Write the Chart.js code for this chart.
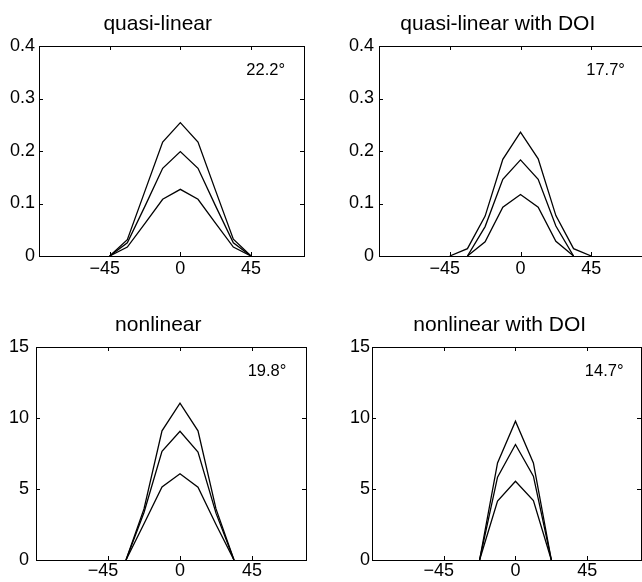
<!DOCTYPE html>
<html><head><meta charset="utf-8">
<script src="https://cdn.jsdelivr.net/npm/chart.js@4.4.1/dist/chart.umd.min.js"></script>
<style>
html,body{margin:0;padding:0;background:#fff;width:642px;height:582px;overflow:hidden;position:relative}
.p{position:absolute}
canvas{display:block}
</style></head><body>
<div class="p" id="w0"><canvas id="c0"></canvas></div>
<div class="p" id="w1"><canvas id="c1"></canvas></div>
<div class="p" id="w2"><canvas id="c2"></canvas></div>
<div class="p" id="w3"><canvas id="c3"></canvas></div>
<script>
// ---- data (angle in degrees) ----
const anglesQuasi = [-45, -33.75, -22.5, -11.25, 0, 11.25, 22.5, 33.75, 45];
const anglesNonlinear = [-33.75, -22.5, -11.25, 0, 11.25, 22.5, 33.75];
const anglesNonlinearDOI = [-22.5, -11.25, 0, 11.25, 22.5];

const quasiHigh = [0, 0.031, 0.124, 0.217, 0.254, 0.217, 0.124, 0.032, 0];
const quasiMid  = [0, 0.025, 0.095, 0.167, 0.199, 0.167, 0.095, 0.025, 0];
const quasiLow  = [0, 0.017, 0.062, 0.108, 0.127, 0.108, 0.062, 0.017, 0];

const quasiDOIHigh = [0, 0.014, 0.076, 0.184, 0.236, 0.185, 0.077, 0.014, 0];
const quasiDOIMid  = [null, 0, 0.056, 0.146, 0.183, 0.146, 0.057, 0, null];
const quasiDOILow  = [null, 0, 0.027, 0.093, 0.117, 0.093, 0.028, 0, null];

const nonlinHigh = [0, 3.6, 9.1, 11.05, 9.1, 3.6, 0];
const nonlinMid  = [0, 3.35, 7.65, 9.06, 7.6, 3.3, 0];
const nonlinLow  = [0, 2.55, 5.15, 6.07, 5.13, 2.5, 0];

const nonlinDOIHigh = [0, 6.84, 9.77, 6.84, 0];
const nonlinDOIMid  = [0, 5.83, 8.13, 5.9, 0];
const nonlinDOILow  = [0, 4.15, 5.55, 4.19, 0];

const xTicks = [-45, 0, 45];
const yTicksQuasi = [0, 0.1, 0.2, 0.3, 0.4];
const yTicksNonlinear = [0, 5, 10, 15];

const titles = ['quasi-linear', 'quasi-linear with DOI', 'nonlinear', 'nonlinear with DOI'];
const widthLabels = ['22.2°', '17.7°', '19.8°', '14.7°'];

// ---- layout / style ----
const FONT = '"Liberation Sans", Arial, Helvetica, sans-serif';
const ML = 36, MT = 50, MR = 20, MB = 32;
const panels = [
  {area:{l:39, t:46, r:304, b:256}, xMax:78.75, x:anglesQuasi, s:[quasiHigh, quasiMid, quasiLow], yMax:0.4, yTicks:yTicksQuasi, titleOff:118.7, lx:42, ly:0.353, yPad:4, xPad:2},
  {area:{l:379, t:46, r:662, b:256}, xMax:90, x:anglesQuasi, s:[quasiDOIHigh, quasiDOIMid, quasiDOILow], yMax:0.4, yTicks:yTicksQuasi, titleOff:118.8, lx:41.8, ly:0.353, yPad:5, xPad:2},
  {area:{l:36, t:347, r:306, b:560}, xMax:78.75, x:anglesNonlinear, s:[nonlinHigh, nonlinMid, nonlinLow], yMax:15, yTicks:yTicksNonlinear, titleOff:122.3, lx:42.3, ly:13.25, yPad:7, xPad:0},
  {area:{l:372, t:347, r:641, b:560}, xMax:78.75, x:anglesNonlinearDOI, s:[nonlinDOIHigh, nonlinDOIMid, nonlinDOILow], yMax:15, yTicks:yTicksNonlinear, titleOff:127.7, lx:43.5, ly:13.25, yPad:2, xPad:0}
];

const framePlugin = {
  id: 'frame',
  afterDraw(chart, args, o) {
    const {ctx, chartArea: a, scales: {x, y}} = chart;
    ctx.save();
    ctx.strokeStyle = '#000';
    ctx.lineWidth = 1;
    ctx.strokeRect(a.left + 0.5, a.top + 0.5, a.right - a.left, a.bottom - a.top);
    const tl = 4;
    ctx.beginPath();
    x.ticks.forEach(t => {
      const px = Math.round(x.getPixelForValue(t.value)) + 0.5;
      ctx.moveTo(px, a.bottom); ctx.lineTo(px, a.bottom - tl);
      ctx.moveTo(px, a.top); ctx.lineTo(px, a.top + tl);
    });
    y.ticks.forEach(t => {
      const py = Math.round(y.getPixelForValue(t.value)) + 0.5;
      ctx.moveTo(a.left, py); ctx.lineTo(a.left + tl, py);
      ctx.moveTo(a.right, py); ctx.lineTo(a.right - tl, py);
    });
    ctx.stroke();
    ctx.fillStyle = '#000';
    ctx.font = '21px ' + FONT;
    ctx.textAlign = 'center';
    ctx.textBaseline = 'alphabetic';
    ctx.fillText(o.title, a.left + o.titleOff, a.top - 16);
    ctx.font = '16.5px ' + FONT;
    ctx.textAlign = 'left';
    ctx.textBaseline = 'middle';
    ctx.fillText(o.label, x.getPixelForValue(o.lx), y.getPixelForValue(o.ly));
    ctx.restore();
  }
};

panels.forEach((p, i) => {
  const a = p.area;
  const w = (a.r - a.l) + ML + MR, h = (a.b - a.t) + MT + MB;
  const wrap = document.getElementById('w' + i);
  wrap.style.left = (a.l - ML) + 'px';
  wrap.style.top = (a.t - MT) + 'px';
  wrap.style.width = w + 'px';
  wrap.style.height = h + 'px';
  const cv = document.getElementById('c' + i);
  cv.width = w; cv.height = h;
  cv.style.width = w + 'px'; cv.style.height = h + 'px';
  new Chart(cv, {
    type: 'line',
    data: {
      datasets: p.s.map(arr => ({
        data: p.x.map((ang, k) => ({x: ang, y: arr[k]})),
        borderColor: '#000',
        borderWidth: 1.3,
        pointRadius: 0,
        tension: 0,
        fill: false,
        spanGaps: false
      }))
    },
    options: {
      responsive: false,
      animation: false,
      devicePixelRatio: 1,
      layout: {padding: {top: MT, right: MR, left: 0, bottom: 0}},
      plugins: {
        legend: {display: false},
        tooltip: {enabled: false},
        title: {display: false},
        frame: {title: titles[i], titleOff: p.titleOff, label: widthLabels[i], lx: p.lx, ly: p.ly}
      },
      scales: {
        x: {
          type: 'linear', min: -90, max: p.xMax,
          grid: {display: false, drawTicks: false},
          border: {display: false},
          afterBuildTicks: s => { s.ticks = xTicks.map(v => ({value: v})); },
          afterFit: s => { s.height = MB; },
          ticks: {
            color: '#000', padding: p.xPad, maxRotation: 0, autoSkip: false,
            font: {family: FONT, size: 18},
            // minus sign hangs left of the tick, number itself centred (as in the reference)
            callback: v => (v < 0 ? '\u2212' + Math.abs(v) + '  ' : String(v))
          }
        },
        y: {
          type: 'linear', min: 0, max: p.yMax,
          grid: {display: false, drawTicks: false},
          border: {display: false},
          afterBuildTicks: s => { s.ticks = p.yTicks.map(v => ({value: v})); },
          afterFit: s => { s.width = ML; },
          ticks: {
            color: '#000', padding: p.yPad, autoSkip: false,
            font: {family: FONT, size: 18},
            callback: v => String(v)
          }
        }
      }
    },
    plugins: [framePlugin]
  });
});
</script>
</body></html>
